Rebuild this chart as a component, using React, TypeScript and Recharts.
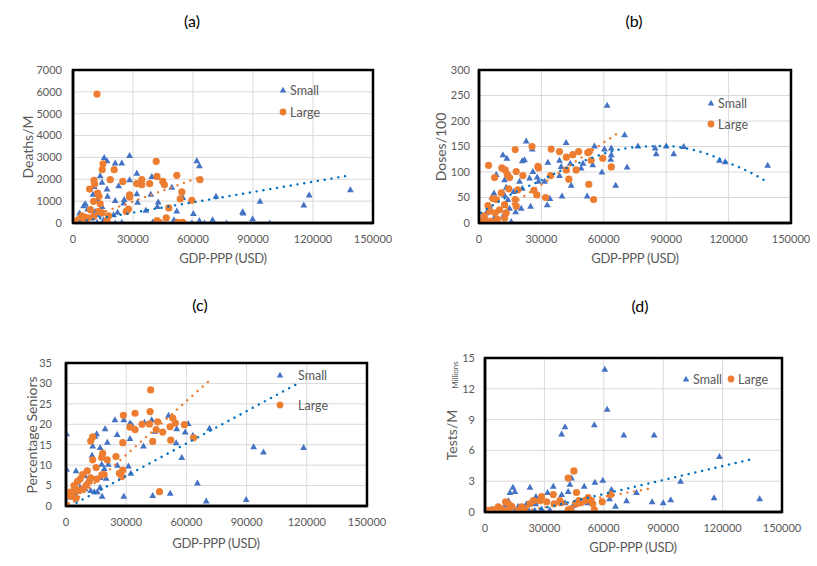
import { ScatterChart, Scatter, XAxis, YAxis, CartesianGrid } from 'recharts';

type Pt = [number, number];

const BLUE = '#4472C4';
const ORANGE = '#ED7D31';
const TREND_BLUE = '#0070C0';
const TEXT = '#595959';
const FONT = 'Lato, "Open Sans", sans-serif';

// shared x axis
const gdpTicks = [0, 30000, 60000, 90000, 120000, 150000];

// (a) Deaths per million
const deathTicks = [0, 1000, 2000, 3000, 4000, 5000, 6000, 7000];
const deathsSmall: Pt[] = [
  [15600, 3000], [17000, 2850], [21100, 2740], [24400, 2740], [28300, 3090], [61900, 2850],
  [63200, 2620], [13600, 2160], [31900, 2280], [39400, 2130], [22800, 1700], [28300, 1980],
  [14500, 1860], [17000, 1550], [49400, 1640], [10000, 1310], [17300, 1220], [21100, 1030],
  [25600, 1070], [31900, 1340], [38900, 1320], [42600, 960], [42200, 760], [54900, 1170],
  [71500, 1220], [93500, 990], [118100, 1280], [115400, 820], [138700, 1520], [84800, 520],
  [85100, 460], [89800, 200], [98400, 0], [76800, 0], [69800, 150], [63200, 110],
  [65700, 0], [59400, 0], [60200, 430], [51900, 550], [50500, 150], [44400, 0],
  [39900, 50], [32300, 950], [36400, 580], [25300, 910], [22300, 490], [20300, 380],
  [24400, 30], [21100, 0], [6200, 880], [5300, 790], [7300, 640], [11100, 530],
  [12800, 380], [8700, 230], [3700, 150], [1200, 30], [12300, 1070], [14500, 760],
  [12000, 30], [15300, 150], [3300, 460], [10600, 1670],
];
const deathsLarge: Pt[] = [
  [12000, 5900], [15000, 2710], [14600, 2440], [41600, 2820], [20600, 2440], [42000, 2130],
  [51900, 2180], [10500, 1950], [10800, 1780], [18600, 1980], [24900, 1900], [31900, 1800],
  [34400, 1980], [34400, 1750], [38300, 1800], [44900, 1900], [45700, 1750], [63500, 1980],
  [8300, 1550], [12300, 1370], [13000, 1220], [54400, 1420], [53600, 1100], [28300, 1290],
  [28300, 1190], [59400, 1040], [10300, 990], [13600, 880], [47900, 690], [27700, 640],
  [26600, 530], [8700, 610], [12800, 530], [17800, 330], [17000, 120], [17000, 0],
  [46600, 230], [42000, 110], [43100, 30], [52400, 30], [54900, 30], [4500, 330],
  [5700, 270], [7300, 230], [2800, 150], [1700, 80], [700, 30], [3700, 30],
  [10300, 300], [14500, 460], [6200, 80],
];
const deathsSmallTrend: Pt[] = [[0, 5], [136700, 2150]];
const deathsLargeTrend: Pt[] = [[300, 0], [65000, 2150]];

// (b) Doses per 100
const doseTicks = [0, 50, 100, 150, 200, 250, 300];
const dosesSmall: Pt[] = [
  [61600, 231], [55500, 151], [41900, 158], [22700, 161], [70000, 173], [76400, 151],
  [90000, 151], [98400, 150], [84700, 147], [85200, 136], [93600, 136], [115600, 123],
  [118300, 120], [138800, 113], [71200, 110], [63600, 147], [63600, 134], [63300, 125],
  [60300, 145], [59100, 100], [65700, 74], [52000, 53], [39900, 53], [34100, 48],
  [32800, 36], [44300, 74], [54700, 114], [50000, 117], [49100, 108], [43900, 117],
  [38700, 123], [39500, 111], [38700, 93], [33100, 119], [31500, 82], [28600, 82],
  [28000, 90], [25900, 101], [24300, 88], [21900, 124], [20800, 122], [25600, 145],
  [11500, 134], [13400, 127], [12300, 85], [13100, 70], [19500, 82], [20800, 68],
  [16600, 62], [12300, 55], [7200, 59], [8300, 95], [6200, 51], [5100, 33],
  [3500, 20], [1900, 7], [7200, 10], [11500, 13], [20300, 29], [24800, 33],
  [15500, 3], [17600, 22], [13900, 46], [14700, 29], [800, 3],
];
const dosesLarge: Pt[] = [
  [25500, 150], [17400, 144], [34700, 145], [38700, 140], [45100, 134], [47900, 140],
  [52300, 138], [53100, 140], [42000, 129], [59500, 127], [53900, 123], [28300, 111],
  [28600, 108], [4600, 113], [11000, 108], [12600, 104], [63600, 110], [42000, 104],
  [46700, 104], [17900, 101], [13600, 95], [21100, 93], [34400, 93], [7500, 89],
  [43200, 86], [14700, 89], [52800, 76], [18700, 65], [14300, 67], [26400, 64],
  [27800, 55], [32000, 50], [55100, 46], [6700, 48], [8300, 46], [10700, 59],
  [17400, 46], [17900, 33], [4300, 34], [12300, 36], [13100, 20], [5100, 23],
  [2400, 14], [3000, 7], [1100, 3], [5900, 3], [8800, 7], [12300, 10],
  [7800, 20], [9900, 26], [4000, 1],
];
const dosesSmallTrend: Pt[] = [
  [1000, 20], [15000, 55], [30000, 84], [40000, 104], [50000, 121], [60000, 136],
  [70000, 146], [80000, 150], [90000, 151], [100000, 146], [110000, 135], [120000, 118],
  [130000, 100], [138000, 82],
];
const dosesLargeTrend: Pt[] = [[2500, 0], [67000, 177]];

// (c) Percentage seniors
const seniorTicks = [0, 5, 10, 15, 20, 25, 30, 35];
const seniorsSmall: Pt[] = [
  [300, 17.7], [300, 9.0], [15300, 17.7], [14500, 17.1], [19500, 18.9], [24400, 21.1],
  [28800, 21.1], [25500, 17.5], [20600, 15.6], [17000, 14.3], [13300, 14.7], [13000, 12.4],
  [31900, 20.3], [32800, 19.9], [39100, 20.5], [42700, 21.1], [51100, 22.2], [60900, 20.2],
  [55200, 18.9], [59400, 18.1], [44400, 18.3], [63200, 17.3], [71500, 19.0], [93500, 14.5],
  [98400, 13.2], [118400, 14.3], [31900, 16.5], [54900, 15.5], [38600, 14.7], [57700, 11.9],
  [31100, 9.8], [32300, 8.0], [25600, 10.0], [17800, 10.2], [21100, 10.2], [19100, 9.2],
  [10600, 8.6], [9500, 7.4], [20000, 6.8], [17000, 7.0], [17000, 4.6], [14100, 3.5],
  [15600, 3.5], [12300, 3.8], [18000, 2.4], [28800, 2.4], [43200, 2.6], [51900, 3.1],
  [65500, 5.6], [69900, 1.2], [89800, 1.6], [7000, 4.6], [4500, 3.2], [10600, 6.0],
  [5300, 5.8], [9500, 4.2], [1700, 2.2], [5000, 8.6],
];
const seniorsLarge: Pt[] = [
  [42200, 28.4], [41900, 23.1], [34400, 22.7], [28600, 22.2], [37900, 20.0], [41600, 20.1],
  [45700, 20.6], [53200, 21.5], [54500, 20.3], [59000, 19.9], [31900, 19.3], [34400, 18.7],
  [44900, 18.7], [48200, 18.1], [51900, 19.4], [63600, 16.7], [43200, 15.8], [52200, 16.1],
  [13300, 16.9], [12300, 15.9], [28300, 15.5], [18300, 12.9], [17800, 11.9], [24900, 12.1],
  [20600, 11.3], [13300, 11.3], [15000, 9.4], [10600, 8.6], [28300, 8.8], [27800, 7.2],
  [26600, 8.0], [19000, 7.7], [17800, 7.6], [8300, 7.7], [15300, 6.6], [11600, 6.0],
  [12300, 6.9], [5700, 6.0], [7000, 6.6], [4000, 5.0], [2000, 3.4], [3700, 3.4],
  [6700, 3.8], [8600, 4.2], [1200, 2.6], [2800, 2.4], [5000, 1.9], [46600, 3.5],
  [300, 0.3], [10000, 5.0], [4500, 4.2],
];
const seniorsSmallTrend: Pt[] = [[2200, 0], [115600, 30]];
const seniorsLargeTrend: Pt[] = [[1400, 0], [71700, 30.8]];

// (d) Tests per million (millions)
const testTicks = [0, 3, 6, 9, 12, 15];
const testsSmall: Pt[] = [
  [60500, 13.9], [61700, 10.0], [55200, 8.5], [40400, 8.3], [38700, 7.6], [70100, 7.5],
  [85400, 7.5], [118400, 5.4], [98800, 3.0], [59500, 3.1], [55500, 2.9], [43700, 3.3],
  [42900, 2.7], [42000, 2.0], [50100, 2.5], [34500, 2.5], [22700, 2.4], [14100, 2.4],
  [15100, 2.0], [12600, 1.9], [31600, 1.9], [38700, 1.7], [76500, 1.9], [63900, 2.2],
  [71500, 1.1], [62900, 1.3], [84400, 1.0], [90000, 0.9], [93800, 1.2], [115700, 1.4],
  [138700, 1.3], [65900, 0.55], [52100, 1.3], [51800, 0.9], [40400, 0.9], [44600, 0.65],
  [25700, 1.5], [25500, 0.8], [28600, 0.3], [25200, 0.15], [32800, 0.2], [21000, 0.8],
  [20200, 0.5], [16800, 0.55], [11800, 1.1], [10100, 0.65], [6400, 0.5], [3400, 0.3],
  [1300, 0.15], [15100, 0.15], [19300, 0.15], [22200, 0.15],
];
const testsLarge: Pt[] = [
  [44900, 4.0], [42000, 3.3], [46200, 1.9], [34500, 1.7], [63400, 1.7], [28600, 1.5],
  [47400, 1.1], [52100, 1.4], [53500, 1.1], [54400, 0.8], [59200, 1.0], [46200, 0.8],
  [42000, 0.2], [43400, 0.3], [55200, 0.2], [24400, 1.1], [22700, 0.8], [34900, 0.8],
  [31100, 1.0], [27700, 1.1], [37800, 1.1], [38300, 0.9], [10400, 1.0], [11800, 0.8],
  [13500, 0.55], [18500, 0.5], [20200, 0.3], [16800, 0.15], [11800, 0.15], [8400, 0.3],
  [6700, 0.5], [4200, 0.2], [2500, 0.15], [840, 0.1], [5000, 0.1], [48400, 0.9],
  [50400, 1.1],
];
const testsSmallTrend: Pt[] = [[21400, 0], [136000, 5.2]];
const testsLargeTrend: Pt[] = [[17000, 0], [83000, 2.27]];

const toXY = (pts: Pt[]) => pts.map(([x, y]) => ({ x, y }));

const Tri = (p: any) => {
  const { cx, cy } = p;
  if (cx == null || cy == null) return <g />;
  return (
    <polygon
      points={`${cx},${cy - 3.5} ${cx + 3.4},${cy + 2.5} ${cx - 3.4},${cy + 2.5}`}
      fill={BLUE}
    />
  );
};

const Dot = (p: any) => {
  const { cx, cy } = p;
  if (cx == null || cy == null) return <g />;
  return <circle cx={cx} cy={cy} r={3.6} fill={ORANGE} />;
};

const NoShape = () => <g />;

const trendLine = (color: string) => ({
  stroke: color,
  strokeWidth: 2.4,
  strokeDasharray: '0.1 6.8',
  strokeLinecap: 'round' as const,
});

// axis lines double as the black plot frame
const frameLine = { stroke: '#000', strokeWidth: 2.5 };

interface Box {
  x0: number;
  x1: number;
  y0: number;
  y1: number;
}

interface PanelProps {
  box: Box;
  yTicks: number[];
  yGap: number;
  small: Pt[];
  large: Pt[];
  smallTrend: Pt[];
  largeTrend: Pt[];
}

const Panel = ({ box, yTicks, yGap, small, large, smallTrend, largeTrend }: PanelProps) => {
  const cl = box.x0 - 60;
  const ct = box.y0 - 10;
  const cw = box.x1 - cl + 30;
  const ch = box.y1 - ct + 30;
  const yMax = yTicks[yTicks.length - 1];
  const tick = { fill: TEXT, fontSize: 11, fontFamily: FONT };
  return (
    <div style={{ position: 'absolute', left: cl, top: ct }}>
      <ScatterChart width={cw} height={ch} margin={{ top: 10, right: 30, bottom: 0, left: 0 }}>
        <CartesianGrid stroke="#d9d9d9" strokeWidth={1} />
        <XAxis
          type="number"
          dataKey="x"
          domain={[0, 150000]}
          ticks={gdpTicks}
          interval={0}
          height={30}
          axisLine={frameLine}
          tickLine={false}
          tickSize={0}
          tickMargin={12}
          tick={tick}
          allowDataOverflow
        />
        <XAxis
          xAxisId="top"
          orientation="top"
          type="number"
          dataKey="x"
          domain={[0, 150000]}
          height={0}
          axisLine={frameLine}
          tickLine={false}
          tick={false}
        />
        <YAxis
          type="number"
          dataKey="y"
          domain={[0, yMax]}
          ticks={yTicks}
          interval={0}
          width={60}
          axisLine={frameLine}
          tickLine={false}
          tickSize={0}
          tickMargin={yGap}
          tick={tick}
          allowDataOverflow
        />
        <YAxis
          yAxisId="right"
          orientation="right"
          type="number"
          dataKey="y"
          domain={[0, yMax]}
          width={0}
          axisLine={frameLine}
          tickLine={false}
          tick={false}
        />
        <Scatter data={toXY(small)} shape={Tri} isAnimationActive={false} />
        <Scatter data={toXY(large)} shape={Dot} isAnimationActive={false} />
        <Scatter
          data={toXY(largeTrend)}
          shape={NoShape}
          line={trendLine(ORANGE)}
          isAnimationActive={false}
        />
        <Scatter
          data={toXY(smallTrend)}
          shape={NoShape}
          line={trendLine(TREND_BLUE)}
          lineJointType="monotoneX"
          isAnimationActive={false}
        />
      </ScatterChart>
    </div>
  );
};

const boxA: Box = { x0: 73, x1: 373, y0: 70, y1: 223 };
const boxB: Box = { x0: 479, x1: 791, y0: 70, y1: 223 };
const boxC: Box = { x0: 66, x1: 367, y0: 363, y1: 506 };
const boxD: Box = { x0: 485, x1: 782, y0: 358, y1: 512 };

// black plot-area frame on top of everything
const Frame = ({ box }: { box: Box }) => (
  <path
    d={`M${box.x0},${box.y0} H${box.x1} V${box.y1} H${box.x0} Z`}
    fill="none"
    stroke="#000000"
    strokeWidth={2.5}
  />
);

const LegendTri = ({ x, y }: { x: number; y: number }) => (
  <polygon points={`${x},${y - 3.3} ${x + 3.2},${y + 2.4} ${x - 3.2},${y + 2.4}`} fill={BLUE} />
);
const LegendDot = ({ x, y }: { x: number; y: number }) => (
  <circle cx={x} cy={y} r={3.4} fill={ORANGE} />
);

const Label = ({ x, y, text, size = 14, rotate = false, color = TEXT, spacing = 0 }: any) => (
  <text
    x={x}
    y={y}
    fontSize={size}
    fill={color}
    fontFamily={FONT}
    letterSpacing={spacing}
    textAnchor="middle"
    dominantBaseline="central"
    transform={rotate ? `rotate(-90 ${x} ${y})` : undefined}
  >
    {text}
  </text>
);

const LegendText = ({ x, y, text }: any) => (
  <text x={x} y={y} fontSize={12.5} fill={TEXT} fontFamily={FONT} dominantBaseline="central">
    {text}
  </text>
);

export default function App() {
  return (
    <div
      style={{
        position: 'absolute',
        left: 0,
        top: 0,
        width: 817,
        height: 566,
        overflow: 'hidden',
        background: '#fff',
      }}
    >
      <Panel box={boxA} yTicks={deathTicks} yGap={11} small={deathsSmall} large={deathsLarge}
        smallTrend={deathsSmallTrend} largeTrend={deathsLargeTrend} />
      <Panel box={boxB} yTicks={doseTicks} yGap={9} small={dosesSmall} large={dosesLarge}
        smallTrend={dosesSmallTrend} largeTrend={dosesLargeTrend} />
      <Panel box={boxC} yTicks={seniorTicks} yGap={14} small={seniorsSmall} large={seniorsLarge}
        smallTrend={seniorsSmallTrend} largeTrend={seniorsLargeTrend} />
      <Panel box={boxD} yTicks={testTicks} yGap={10} small={testsSmall} large={testsLarge}
        smallTrend={testsSmallTrend} largeTrend={testsLargeTrend} />

      <svg
        width={817}
        height={566}
        style={{ position: 'absolute', left: 0, top: 0, pointerEvents: 'none' }}
      >
        <Frame box={boxA} />
        <Frame box={boxB} />
        <Frame box={boxC} />
        <Frame box={boxD} />

        <Label x={192} y={20} text="(a)" size={16} color="#000" />
        <Label x={634} y={20} text="(b)" size={16} color="#000" />
        <Label x={200} y={304} text="(c)" size={16} color="#000" />
        <Label x={640} y={305} text="(d)" size={16} color="#000" />

        <Label x={27} y={147} text="Deaths/M" rotate />
        <Label x={440} y={147} text="Doses/100" rotate />
        <Label x={31} y={435} text="Percentage Seniors" rotate />
        <Label x={451} y={435} text="Tests/M" rotate />
        <Label x={455} y={375} text="Millions" size={8} rotate />

        <Label x={223} y={258} text="GDP-PPP (USD)" size={13} spacing={-0.3} />
        <Label x={635} y={258} text="GDP-PPP (USD)" size={13} spacing={-0.3} />
        <Label x={216} y={543} text="GDP-PPP (USD)" size={13} spacing={-0.3} />
        <Label x={633} y={547} text="GDP-PPP (USD)" size={13} spacing={-0.3} />

        <LegendTri x={283} y={90} />
        <LegendText x={290} y={90} text="Small" />
        <LegendDot x={283} y={112} />
        <LegendText x={290} y={112} text="Large" />

        <LegendTri x={711} y={103} />
        <LegendText x={718} y={103} text="Small" />
        <LegendDot x={711} y={124} />
        <LegendText x={718} y={124} text="Large" />

        <LegendTri x={280} y={375} />
        <LegendText x={298} y={375} text="Small" />
        <LegendDot x={280} y={405} />
        <LegendText x={298} y={405} text="Large" />

        <LegendTri x={686} y={379} />
        <LegendText x={693} y={379} text="Small" />
        <LegendDot x={731} y={379} />
        <LegendText x={738} y={379} text="Large" />
      </svg>
    </div>
  );
}
